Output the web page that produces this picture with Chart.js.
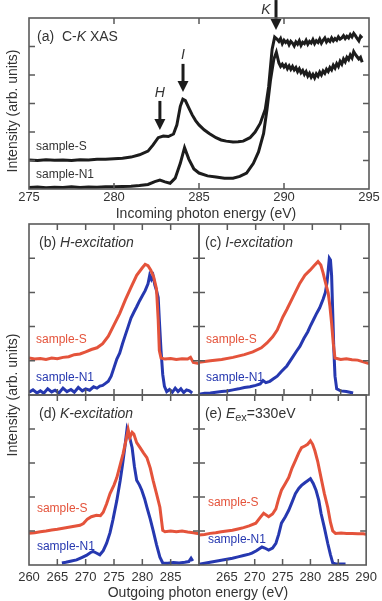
<!DOCTYPE html>
<html><head><meta charset="utf-8">
<script src="https://cdn.jsdelivr.net/npm/chart.js@4/dist/chart.umd.min.js"></script>
<style>
html,body{margin:0;padding:0;background:#fff;}
#wrap{position:relative;width:382px;height:601px;overflow:hidden;font-family:"Liberation Sans",Arial,sans-serif;}
#wrap canvas{position:absolute;left:0;top:0;}
.t{position:absolute;font-size:14px;line-height:1;color:#333;white-space:nowrap;transform:translate(-50%,-50%);}
.r{transform:translate(-50%,-50%) rotate(-90deg);}
</style></head>
<body><div id="wrap">
<canvas id="ca" width="382" height="601"></canvas>
<canvas id="cb" width="382" height="601"></canvas>
<canvas id="cc" width="382" height="601"></canvas>
<canvas id="cd" width="382" height="601"></canvas>
<canvas id="ce" width="382" height="601"></canvas>
<div class="t r" style="left:12px;top:111px;">Intensity (arb. units)</div>
<div class="t" style="left:206px;top:213px;">Incoming photon energy (eV)</div>
<div class="t r" style="left:12px;top:395px;">Intensity (arb. units)</div>
<div class="t" style="left:198px;top:592px;">Outgoing photon energy (eV)</div>
</div>
<script>
// ---------- tick labels ----------
const xasTickLabels = [275, 280, 285, 290, 295];
const xasInnerXTicks = [280, 285, 290];
const xasInnerYTicks = [1, 2, 3, 4, 5];
const xesTickLabelsD = [260, 265, 270, 275, 280, 285];
const xesTickLabelsE = [265, 270, 275, 280, 285, 290];
const xesInnerXTicks = [265, 270, 275, 280, 285];
const xesInnerYTicks = [1, 2, 3, 4];

// ---------- (a) C-K XAS ----------
const xasS_E = [275,275.5,276,276.5,277,277.5,278,278.5,279,279.5,280,280.5,281,281.5,282,282.3,282.6,282.9,283.2,283.5,283.7,283.9,284.05,284.2,284.4,284.6,284.8,285,285.3,285.6,286,286.3,286.6,287,287.3,287.6,288,288.3,288.6,288.9,289.1,289.3,289.45,
289.6,289.7,289.8,289.9,290,290.1,290.2,290.3,290.4,290.5,290.6,290.7,290.8,290.9,291,291.1,291.2,291.3,291.4,291.5,291.6,291.7,291.8,291.9,292,292.1,292.2,292.3,292.4,292.5,292.6,292.7,292.8,292.9,293,293.1,293.2,293.3,293.4,293.5,293.6,293.7,293.8,293.9,294,294.1,294.2,294.3,294.4,294.5,294.6];
const xasS_I = [1.02,1.00,1.03,1.01,1.02,1.00,1.03,1.02,1.04,1.04,1.06,1.08,1.12,1.20,1.33,1.55,1.80,1.86,1.84,1.93,2.25,2.90,3.15,3.10,2.85,2.60,2.40,2.25,2.08,1.95,1.80,1.72,1.68,1.65,1.66,1.68,1.80,2.00,2.30,2.80,3.60,4.90,5.33,
5.25,5.18,5.28,5.10,5.22,5.14,5.20,5.06,5.18,5.12,5.02,5.16,5.08,5.20,5.04,5.15,5.10,5.22,5.08,5.18,5.12,5.24,5.10,5.20,5.14,5.26,5.12,5.22,5.30,5.16,5.24,5.18,5.30,5.20,5.28,5.22,5.34,5.26,5.30,5.38,5.28,5.36,5.30,5.42,5.34,5.46,5.38,5.28,5.20,5.36,5.30];
const xasN1_E = [275,275.5,276,276.5,277,277.5,278,278.5,279,279.5,280,280.5,281,281.5,282,282.4,282.7,283,283.3,283.6,283.9,284.15,284.4,284.7,285,285.5,286,286.5,287,287.4,287.8,288.2,288.5,288.8,289,289.2,289.4,289.55,
289.7,289.8,289.9,290,290.1,290.2,290.3,290.4,290.5,290.6,290.7,290.8,290.9,291,291.1,291.2,291.3,291.4,291.5,291.6,291.7,291.8,291.9,292,292.1,292.2,292.3,292.4,292.5,292.6,292.7,292.8,292.9,293,293.1,293.2,293.3,293.4,293.5,293.6,293.7,293.8,293.9,294,294.1,294.2,294.3,294.4,294.5,294.6];
const xasN1_I = [0.05,0.07,0.04,0.06,0.05,0.08,0.05,0.07,0.06,0.08,0.08,0.09,0.10,0.12,0.16,0.26,0.31,0.25,0.20,0.38,0.90,1.45,1.05,0.70,0.56,0.46,0.42,0.38,0.38,0.44,0.56,0.90,1.30,1.95,2.80,3.80,4.55,4.80,
4.42,4.30,4.38,4.28,4.36,4.22,4.32,4.20,4.30,4.18,4.26,4.12,4.22,4.08,4.16,4.02,4.12,3.96,4.06,3.92,4.02,3.90,4.04,3.96,4.10,4.00,4.14,4.06,4.20,4.12,4.26,4.18,4.34,4.24,4.40,4.30,4.48,4.38,4.56,4.46,4.62,4.54,4.70,4.60,4.82,4.72,4.64,4.56,4.62,4.45];

// ---------- (b) H-excitation ----------
const hS_E = [260,261,262,263,264,265,266,267,268,269,270,271,272,273,274,275,276,277,278,279,280,280.5,281,281.5,282,282.5,282.8,283,283.3,284,285,286,287,288,288.5,289,290];
const hS_I = [1.08,1.05,1.07,1.04,1.08,1.06,1.10,1.12,1.18,1.20,1.26,1.33,1.38,1.50,1.72,2.05,2.38,2.78,3.15,3.50,3.72,3.82,3.78,3.65,3.45,3.10,2.20,1.30,1.08,1.05,1.07,1.04,1.06,1.05,1.10,0.95,0.92];
const hN1_E = [260,260.7,261.4,262,262.6,263.3,264,264.6,265.3,266,266.7,267.4,268,268.7,269.4,270,270.7,271.4,272,272.5,273,273.5,274,274.5,275,275.5,276,276.5,277,277.5,278,278.5,279,279.5,280,280.5,281,281.3,281.6,281.9,282.2,282.5,282.8,283,283.3,283.6,283.9,284.3,284.8,285.3,285.8,286.3,286.8,287.3,287.8,288.3,288.8];
const hN1_I = [0.08,0.15,0.06,0.12,0.05,0.18,0.09,0.14,0.06,0.20,0.10,0.16,0.08,0.22,0.12,0.18,0.14,0.24,0.20,0.26,0.28,0.34,0.40,0.55,0.80,1.05,1.22,1.50,1.75,2.00,2.25,2.42,2.58,2.75,2.90,3.05,3.25,3.50,3.38,3.48,3.22,3.05,2.85,2.20,1.30,0.60,0.25,0.10,0.16,0.08,0.20,0.10,0.18,0.07,0.15,0.12,0.06];

// ---------- (c) I-excitation ----------
const iS_E = [260,262,264,266,268,269.5,271,272,273,273.8,274.8,275.5,276.6,277.8,278.7,279.6,280.3,281,281.5,281.9,282.3,282.8,283.1,283.4,283.7,284,285,286,287,288,289,290];
const iS_I = [0.96,1.00,1.04,1.10,1.18,1.26,1.38,1.52,1.70,1.90,2.28,2.50,2.87,3.27,3.50,3.65,3.78,3.90,3.80,3.57,3.30,2.98,2.60,2.10,1.50,1.08,1.04,1.06,1.03,1.02,0.97,0.92];
const iN1_E = [260,261,262,263,264,265,266,267,268,269,270,270.8,271.3,271.8,272.5,273.2,273.8,274.5,275.5,276.5,277.2,277.8,278.5,279.2,279.6,280.2,280.8,281.3,281.9,282.3,282.6,282.8,283,283.2,283.4,283.6,283.8,284,284.3,285,286,287.2];
const iN1_I = [0.02,0.05,0.06,0.08,0.10,0.12,0.15,0.18,0.22,0.24,0.28,0.32,0.42,0.36,0.40,0.48,0.55,0.68,0.85,1.10,1.28,1.42,1.65,1.85,2.00,2.20,2.40,2.55,2.80,3.00,3.30,3.65,4.00,3.95,3.50,2.40,1.30,0.55,0.18,0.12,0.10,0.06];

// ---------- (d) K-excitation ----------
const kS_E = [260,261,262,263,264,265,266,267,268,269,269.6,270.3,271,271.9,272.6,273.1,273.7,274.3,275,275.5,276.1,276.6,277.1,277.5,277.8,278.2,278.5,279,279.6,280.2,280.8,281.4,281.9,282.5,283.1,283.6,284,285,286,287,288,289,290];
const kS_I = [0.93,0.95,0.98,1.00,1.03,1.05,1.08,1.11,1.14,1.17,1.22,1.35,1.42,1.46,1.45,1.55,1.80,2.10,2.35,2.57,2.95,3.27,3.65,3.98,3.75,3.90,3.85,3.60,3.45,3.30,3.16,2.85,2.49,2.10,1.70,1.02,0.98,1.00,0.98,1.00,0.97,0.95,0.92];
const kN1_E = [265.8,266.5,267.5,268.4,269.3,270.2,270.8,271.3,271.8,272.5,273.1,273.7,274.3,274.8,275.5,276.1,276.5,276.9,277.3,277.7,278.2,278.6,279,279.5,279.9,280.4,280.8,281.4,281.9,282.5,283.1,283.6,284.5,285.5,286.5,287.5,288.2,288.6,288.9];
const kN1_I = [0.06,0.08,0.12,0.15,0.22,0.29,0.36,0.40,0.36,0.30,0.42,0.64,0.95,1.32,1.90,2.49,2.95,3.45,4.00,3.80,3.45,2.90,2.49,2.35,2.20,1.95,1.70,1.35,1.02,0.60,0.23,0.06,0.05,0.07,0.06,0.08,0.10,0.20,0.12];

// ---------- (e) Eex = 330 eV ----------
const eS_E = [260,261,262,263,264,265,266,267,268,269,270.2,271,271.6,272.5,273.2,273.8,274.3,274.8,275.5,276.1,276.7,277.3,277.9,278.4,279,279.5,280,280.4,280.8,281.3,281.9,282.5,283.1,283.6,284,284.5,285.5,286.5,287.5,288.5,289.5,290];
const eS_I = [0.88,0.90,0.93,0.95,0.98,1.00,1.02,1.06,1.10,1.15,1.23,1.40,1.52,1.42,1.50,1.65,1.95,2.20,2.40,2.57,2.85,3.07,3.30,3.45,3.50,3.55,3.65,3.55,3.36,3.05,2.57,2.10,1.70,1.25,1.00,0.93,0.94,0.93,0.93,0.92,0.92,0.90];
const eN1_E = [260,261,262,263,264,265,266,267,268,269,269.5,270.3,271.3,271.8,272.5,273.2,273.8,274.3,274.8,275.5,276.1,276.7,277.3,277.9,278.4,279,279.5,280,280.5,281,281.5,281.9,282.5,283.1,283.6,284,284.5,285.5,286.3];
const eN1_I = [0.02,0.05,0.08,0.11,0.14,0.17,0.20,0.24,0.28,0.32,0.35,0.42,0.53,0.50,0.44,0.50,0.64,0.90,1.23,1.42,1.61,1.85,2.10,2.25,2.34,2.42,2.48,2.54,2.40,2.20,1.90,1.52,1.10,0.64,0.30,0.06,0.03,0.03,0.03];

// ---------- styling ----------
const FONT = '"Liberation Sans", Arial, sans-serif';
const BLACK = '#1c1c1c', RED = '#e4533b', BLUE = '#2638b0', FRAME = '#5a5a5a', TXT = '#333';
const W = 382, H = 601;

function pts(xs, ys){ return xs.map((x,i)=>({x:x, y:ys[i]})); }

const framePlugin = {
  id: 'frame',
  afterDatasetsDraw(chart, args, o){
    const ctx = chart.ctx, xs = chart.scales.x, ys = chart.scales.y;
    ctx.save();
    (o.arrows||[]).forEach(a=>{
      const x = xs.getPixelForValue(a.x), yt = ys.getPixelForValue(a.tail), yh = ys.getPixelForValue(a.tip);
      ctx.strokeStyle = BLACK; ctx.fillStyle = BLACK; ctx.lineWidth = 3;
      ctx.beginPath(); ctx.moveTo(x, yt); ctx.lineTo(x, yh-8); ctx.stroke();
      ctx.beginPath(); ctx.moveTo(x-5.5, yh-11); ctx.lineTo(x+5.5, yh-11); ctx.lineTo(x, yh); ctx.closePath(); ctx.fill();
      ctx.font = 'italic 14px ' + FONT; ctx.textAlign = 'center'; ctx.textBaseline = 'middle';
      ctx.fillStyle = TXT;
      ctx.fillText(a.label, xs.getPixelForValue(a.lx), ys.getPixelForValue(a.ly));
    });
    (o.texts||[]).forEach(t=>{
      let x = xs.getPixelForValue(t.x); const y = ys.getPixelForValue(t.y);
      ctx.textAlign = 'left'; ctx.textBaseline = 'middle';
      t.parts.forEach(p=>{
        const sz = p.size || t.size || 14;
        ctx.font = (p.i ? 'italic ' : '') + sz + 'px ' + FONT;
        ctx.fillStyle = t.color || TXT;
        ctx.fillText(p.s, x, y + (p.dy||0));
        x += ctx.measureText(p.s).width;
      });
    });
    ctx.restore();
  },
  afterDraw(chart, args, o){
    const ctx = chart.ctx, a = chart.chartArea, xs = chart.scales.x, ys = chart.scales.y;
    const L = 6;
    ctx.save();
    ctx.strokeStyle = FRAME; ctx.lineWidth = 1.5;
    (o.xt||[]).forEach(v=>{
      const x = xs.getPixelForValue(v);
      ctx.beginPath(); ctx.moveTo(x, a.top); ctx.lineTo(x, a.top+L); ctx.moveTo(x, a.bottom); ctx.lineTo(x, a.bottom-L); ctx.stroke();
    });
    (o.yt||[]).forEach(v=>{
      const y = ys.getPixelForValue(v);
      ctx.beginPath(); ctx.moveTo(a.left, y); ctx.lineTo(a.left+L, y); ctx.moveTo(a.right, y); ctx.lineTo(a.right-L, y); ctx.stroke();
    });
    ctx.lineWidth = 1.6;
    ctx.strokeRect(a.left, a.top, a.right-a.left, a.bottom-a.top);
    ctx.restore();
  }
};

function makeChart(id, area, xr, yr, datasets, labels, axisH, labelPad, frameOpts){
  const showX = !!labels;
  return new Chart(document.getElementById(id), {
    type: 'line',
    data: { datasets: datasets.map(d=>({
      data: d.data, borderColor: d.color, borderWidth: 3, pointRadius: 0, tension: 0, fill: false
    })) },
    options: {
      responsive: false, animation: false, events: [],
      layout: { padding: { left: area.l, right: W-area.r, top: area.t, bottom: H-area.b-(showX?axisH:0) } },
      plugins: { legend: {display:false}, tooltip: {enabled:false}, frame: frameOpts },
      scales: {
        x: { type:'linear', min: xr[0], max: xr[1], display: showX,
             afterBuildTicks: s => { if (labels) s.ticks = labels.map(v=>({value:v})); },
             afterFit: s => { s.height = axisH; },
             grid: { display:false, drawTicks:false }, border: { display:false },
             ticks: { color: TXT, font: { family: FONT, size: 13 }, padding: labelPad, maxRotation: 0, autoSkip: false } },
        y: { type:'linear', min: yr[0], max: yr[1], display: false }
      }
    },
    plugins: [framePlugin]
  });
}

// (a)
makeChart('ca', {l:29, r:369, t:18, b:189}, [275,295], [0,6], [
  {data: pts(xasS_E, xasS_I), color: BLACK},
  {data: pts(xasN1_E, xasN1_I), color: BLACK}
], xasTickLabels, 33, 1, {
  xt: xasInnerXTicks, yt: xasInnerYTicks,
  texts: [
    {x:275.47, y:5.33, parts:[{s:'(a)  C-'},{s:'K', i:true},{s:' XAS'}]},
    {x:275.41, y:1.47, size:12, parts:[{s:'sample-S'}]},
    {x:275.41, y:0.49, size:12, parts:[{s:'sample-N1'}]}
  ],
  arrows: [
    {x:282.7, tail:3.09, tip:2.07, label:'H', lx:282.7, ly:3.37},
    {x:284.06, tail:4.39, tip:3.40, label:'I', lx:284.06, ly:4.70},
    {x:289.53, tail:6.63, tip:5.58, label:'K', lx:288.94, ly:6.28}
  ]
});

const sideS = (x,y)=>({x:x, y:y, size:12, color:RED, parts:[{s:'sample-S'}]});
const sideN = (x,y)=>({x:x, y:y, size:12, color:BLUE, parts:[{s:'sample-N1'}]});

// (b)
makeChart('cb', {l:29, r:199, t:224, b:395}, [260,290], [0,5], [
  {data: pts(hS_E, hS_I), color: RED},
  {data: pts(hN1_E, hN1_I), color: BLUE}
], null, 0, 0, {
  xt: xesInnerXTicks, yt: xesInnerYTicks,
  texts: [
    {x:261.76, y:4.44, parts:[{s:'(b) '},{s:'H-excitation', i:true}]},
    sideS(261.24, 1.61), sideN(261.24, 0.50)
  ]
});
// (c)
makeChart('cc', {l:199, r:369, t:224, b:395}, [260,290], [0,5], [
  {data: pts(iS_E, iS_I), color: RED},
  {data: pts(iN1_E, iN1_I), color: BLUE}
], null, 0, 0, {
  xt: xesInnerXTicks, yt: xesInnerYTicks,
  texts: [
    {x:261.06, y:4.44, parts:[{s:'(c) '},{s:'I-excitation', i:true}]},
    sideS(261.24, 1.61), sideN(261.24, 0.50)
  ]
});
// (d)
makeChart('cd', {l:29, r:199, t:395, b:565}, [260,290], [0,5], [
  {data: pts(kS_E, kS_I), color: RED},
  {data: pts(kN1_E, kN1_I), color: BLUE}
], xesTickLabelsD, 36, 5, {
  xt: xesInnerXTicks, yt: xesInnerYTicks,
  texts: [
    {x:261.76, y:4.44, parts:[{s:'(d) '},{s:'K-excitation', i:true}]},
    sideS(261.4, 1.67), sideN(261.4, 0.53)
  ]
});
// (e)
makeChart('ce', {l:199, r:369, t:395, b:565}, [260,290], [0,5], [
  {data: pts(eS_E, eS_I), color: RED},
  {data: pts(eN1_E, eN1_I), color: BLUE}
], xesTickLabelsE, 36, 5, {
  xt: xesInnerXTicks, yt: xesInnerYTicks,
  texts: [
    {x:261.06, y:4.44, parts:[{s:'(e) '},{s:'E', i:true},{s:'ex', size:11, dy:4},{s:'=330eV'}]},
    sideS(261.6, 1.84), sideN(261.6, 0.73)
  ]
});
</script>
</body></html>
